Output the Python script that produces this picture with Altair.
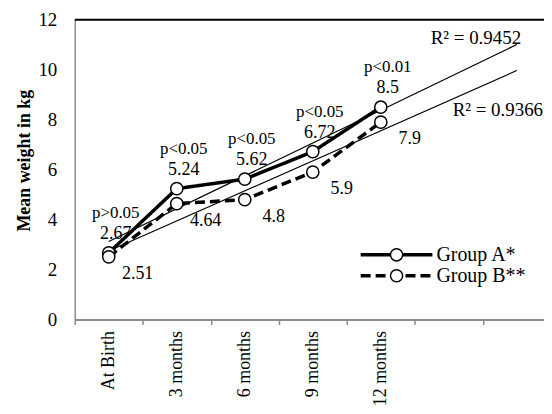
import json
import altair as alt
import pandas as pd

# ---- data ----
categories = ["At Birth", "3 months", "6 months", "9 months", "12 months"]
group_a = [2.67, 5.24, 5.62, 6.72, 8.5]
group_b = [2.51, 4.64, 4.8, 5.9, 7.9]
p_values = ["p>0.05", "p<0.05", "p<0.05", "p<0.05", "p<0.01"]
group_names = ["Group A*", "Group B**"]
y_ticks = [0, 2, 4, 6, 8, 10, 12]
n_slots = 7  # category slots on the x axis (last two are empty)

# ---- styling ----
FONT = "Liberation Serif, DejaVu Serif, serif"
FS = 18
GRAY = "#8c8c8c"
W, H = 471, 301

rows = []
for i in range(len(categories)):
    rows.append(dict(pos=i + 1, value=group_a[i], group=group_names[0], p=p_values[i]))
    rows.append(dict(pos=i + 1, value=group_b[i], group=group_names[1], p=p_values[i]))
df = pd.DataFrame(rows)
df["marker"] = df["group"] + " "  # separate field for the marker legend
df["label"] = df["value"].map(lambda v: f"{v:g}")

base = alt.Chart(df)
xscale = alt.Scale(domain=[0.5, n_slots + 0.4], nice=False, zero=False)
yscale = alt.Scale(domain=[0, 12], nice=False, zero=True)

yaxis = alt.Axis(values=y_ticks, grid=False, ticks=False, domainColor=GRAY, domainWidth=1.5,
                 labelFont=FONT, labelFontSize=19, labelColor="black", labelPadding=18,
                 title="Mean weight in kg", titleFont=FONT, titleFontSize=18,
                 titleFontWeight="bold", titleColor="black", titleX=-41, titleY=141)

tick_axis = alt.Axis(orient="bottom", values=[k + 0.5 for k in range(n_slots + 1)], labels=False,
                     ticks=True, tickSize=5, tickColor=GRAY, tickWidth=1.5, domainColor=GRAY,
                     domainWidth=2, grid=False, title=None)
label_axis = alt.Axis(orient="bottom", values=list(range(1, len(categories) + 1)),
                      labelExpr=json.dumps(categories) + "[datum.value - 1]", labelAngle=-90,
                      labelPadding=11, ticks=False, domain=False, grid=False, title=None,
                      labelFont=FONT, labelFontSize=18, labelColor="black", labelOverlap=False)

def xy(axis=None, xf="pos", yf="value"):
    return dict(x=alt.X(f"{xf}:Q", scale=xscale, axis=axis),
                y=alt.Y(f"{yf}:Q", scale=yscale, axis=yaxis))

top = alt.Chart(pd.DataFrame({"top": [max(y_ticks)]})).mark_rule(color="black", strokeWidth=2).encode(
    y=alt.Y("top:Q", scale=yscale, axis=yaxis), x=alt.value(0), x2=alt.value(W))

trend = base.transform_regression("pos", "value", groupby=["group"], extent=[1, n_slots]).mark_line(
    color="black", strokeWidth=1.2).encode(detail="group:N", **xy(tick_axis))

LEG = dict(orient="none", legendX=313, legendY=226, title=None, labelFont=FONT, labelFontSize=20,
           rowPadding=1)
lines = base.mark_line(color="black", strokeWidth=3.5).encode(
    strokeDash=alt.StrokeDash("group:N", scale=alt.Scale(domain=group_names, range=[[1, 0], [10, 5]]),
                              legend=alt.Legend(symbolType="M-12,0H12", symbolSize=36, symbolStrokeWidth=3.5,
                                                symbolStrokeColor="black", labelColor="black",
                                                labelOffset=30, zindex=1, **LEG)),
    **xy(label_axis))

points = base.mark_point(filled=True, fill="white", strokeWidth=1.5, size=150, opacity=1).encode(
    stroke=alt.Stroke("marker:N", scale=alt.Scale(range=["black", "black"]),
                      legend=alt.Legend(symbolType="circle", symbolSize=150, symbolStrokeWidth=1.5,
                                        symbolFillColor="white", symbolOpacity=1,
                                        labelColor="transparent", labelExpr="' '", labelOffset=4,
                                        zindex=2, **LEG)),
    **xy())

a_only = base.transform_filter(alt.datum.group == group_names[0])
b_only = base.transform_filter(alt.datum.group == group_names[1])
txt = dict(font=FONT, fontSize=FS, color="black", align="center", baseline="middle")
val_a = a_only.mark_text(dx=7, dy=-19, **txt).encode(text="label:N", **xy())
p_a = a_only.mark_text(dx=7, dy=-40, **dict(txt, fontSize=17)).encode(text="p:N", **xy())
val_b = b_only.mark_text(dx=29, dy=17, **txt).encode(text="label:N", **xy())

# regression parameters -> R² text placed at the right end of each trend line
r2 = base.transform_regression("pos", "value", groupby=["group"], params=True).transform_calculate(
    grp="datum.keys[0]", xe=str(n_slots), ye=f"datum.coef[0] + datum.coef[1] * {n_slots}",
    rlabel="'R\u00b2 = ' + format(datum.rSquared, '.4f')")
txt_r = dict(txt, fontSize=19)
r2a = r2.transform_filter(alt.datum.grp == group_names[0]).mark_text(dx=-41, dy=-7, **txt_r).encode(
    text="rlabel:N", **xy(None, "xe", "ye"))
r2b = r2.transform_filter(alt.datum.grp == group_names[1]).mark_text(dx=-19, dy=40, **txt_r).encode(
    text="rlabel:N", **xy(None, "xe", "ye"))

chart = alt.layer(top, trend, lines, points, val_a, p_a, val_b, r2a, r2b).resolve_axis(
    x="independent").properties(
    width=W, height=H, autosize=alt.AutoSizeParams(type="none"),
    padding={"left": 67, "top": 11, "right": 0, "bottom": 86}
).configure_view(stroke=None)

chart.save("out.html", embed_options={"renderer": "svg", "actions": False})
